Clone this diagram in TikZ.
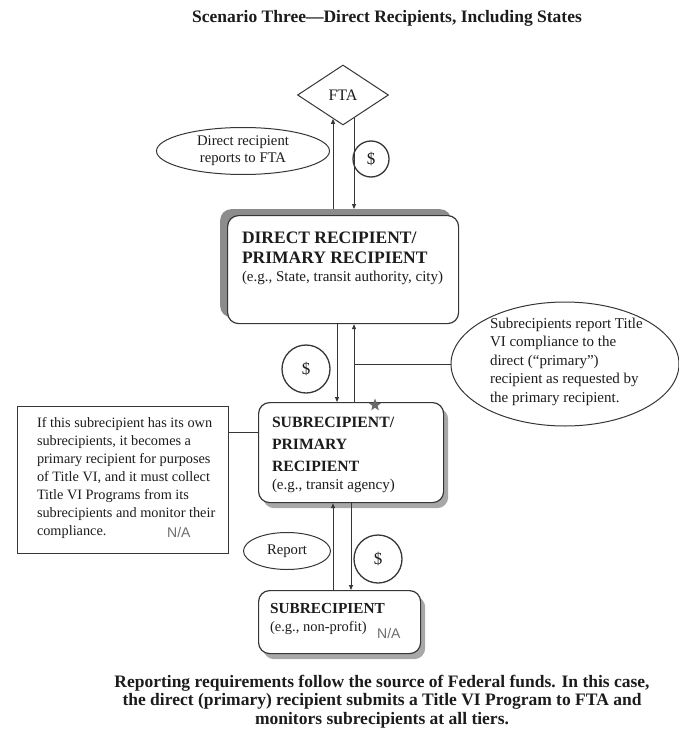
\documentclass[tikz,border=0pt]{standalone}
\usepackage{fontspec}
\setmainfont{Liberation Serif}
\newfontfamily\sansna{Liberation Sans}
\usetikzlibrary{shapes.geometric,arrows.meta,calc}
\definecolor{ink}{HTML}{1C1C1C}
\definecolor{edge}{HTML}{363636}
\definecolor{shadeA}{HTML}{8C8C8C}
\definecolor{shadeB}{HTML}{A8A8A8}
\definecolor{natext}{HTML}{6E6E6E}
\definecolor{stargray}{HTML}{6A6A6A}
\begin{document}
\begin{tikzpicture}[x=1pt,y=-1pt,
  txt/.style={inner sep=0pt, outer sep=0pt, anchor=base west, text=ink},
  ctxt/.style={inner sep=0pt, outer sep=0pt, anchor=base, text=ink},
  body/.style={font=\fontsize{14.3}{18}\selectfont},
  head/.style={font=\bfseries\fontsize{17.5}{20}\selectfont},
  rbox/.style={draw=edge, line width=1.2pt, rounded corners=11pt, fill=white, inner sep=0pt, anchor=north west},
  shad/.style={fill=#1, rounded corners=11pt, inner sep=0pt, anchor=north west},
  ell/.style={ellipse, draw=edge, line width=1pt, inner sep=0pt, fill=white, text=ink, align=center},
  money/.style={circle, draw=edge, line width=1.3pt, inner sep=0pt, minimum size=#1, font=\fontsize{17}{17}\selectfont, text=ink},
  arr/.style={draw=edge, line width=0.9pt, -{Triangle[length=5pt,width=4pt]}},
  conn/.style={draw=edge, line width=0.9pt},
  na/.style={inner sep=0pt, anchor=base west, text=natext, font=\sansna\fontsize{14}{14}\selectfont}
]
\useasboundingbox (0,0) rectangle (679,733);
\fill[white] (0,0) rectangle (679,733);

% title
\node[ctxt, font=\bfseries\fontsize{17.5}{20}\selectfont] (title) at (387,23) {Scenario Three—Direct Recipients, Including States};

% FTA
\node[diamond, draw=edge, line width=1pt, minimum width=91pt, minimum height=60pt, inner sep=0pt, font=\fontsize{16}{16}\selectfont, text=ink] (fta) at (343,95) {FTA};

% report ellipse top
\node[ell, minimum width=173pt, minimum height=47pt, font=\fontsize{14.7}{17}\selectfont] (rep1) at (243,151) {Direct recipient\\reports to FTA};
\node[money=36pt] (m1) at (371,159) {\$};

% direct recipient box
\node[shad=shadeA, minimum width=231pt, minimum height=108pt] (drs) at (220,209) {};
\node[rbox, minimum width=231pt, minimum height=108pt] (dr) at (227,215) {};
\node[txt, head] (dr1) at (242,243) {DIRECT RECIPIENT/};
\node[txt, head] (dr2) at (242,263) {PRIMARY RECIPIENT};
\node[txt, font=\fontsize{15}{18}\selectfont] (dr3) at (242,281) {(e.g., State, transit authority, city)};

% arrows FTA <-> DR
\coordinate (xa) at (333,0);
\coordinate (xb) at (354,0);
\coordinate (fa) at ($(fta.south)!0.44!(fta.south west)$);
\coordinate (fb) at ($(fta.south)!0.48!(fta.south east)$);
\draw[arr] (drs.north -| xa) -- (xa |- fa);
\draw[arr] (xb |- fb) -- (drs.north -| xb);

% subrecipient / primary recipient box
\node[shad=shadeB, minimum width=185pt, minimum height=100pt] (srs) at (263,408) {};
\node[rbox, minimum width=185pt, minimum height=100pt] (sr) at (258,402) {};
\node[txt, font=\bfseries\fontsize{15.7}{18}\selectfont] (sr1) at (272,427) {SUBRECIPIENT/};
\node[txt, font=\bfseries\fontsize{15.7}{18}\selectfont] (sr2) at (272,449) {PRIMARY};
\node[txt, font=\bfseries\fontsize{15.7}{18}\selectfont] (sr3) at (272,471) {RECIPIENT};
\node[txt, font=\fontsize{15}{18}\selectfont] (sr4) at (272,489) {(e.g., transit agency)};
\node[star, star points=5, star point ratio=2.4, fill=stargray, minimum size=13pt, inner sep=0pt] (star) at (375,405) {};

% arrows DR <-> SR
\coordinate (xc) at (337,0);
\coordinate (xd) at (354,0);
\draw[arr] (dr.south -| xc) -- (sr.north -| xc);
\draw[arr] (sr.north -| xd) -- (dr.south -| xd);
\node[money=48pt] (m2) at (306,369) {\$};

% right ellipse
\node[ell, minimum width=228pt, minimum height=124pt] (ell2) at (565,364) {};
\foreach \t [count=\i from 0] in {Subrecipients report Title, VI compliance to the, direct (“primary”), recipient as requested by, the primary recipient.}
  \node[txt, font=\fontsize{15}{18}\selectfont] (rt\i) at (490,{328+18.5*\i}) {\t};
\draw[conn] (xd |- ell2.west) -- (ell2.west);

% left box
\node[draw=edge, line width=1.2pt, minimum width=211pt, minimum height=147pt, anchor=north west, inner sep=0pt] (lbox) at (17,406) {};
\foreach \t [count=\i from 0] in {If this subrecipient has its own, {subrecipients, it becomes a}, primary recipient for purposes, {of Title VI, and it must collect}, Title VI Programs from its, subrecipients and monitor their, compliance.}
  \node[txt, body] (lt\i) at (37,{427+18*\i}) {\t};
\node[na] (na1) at (167,537) {N/A};
\coordinate (ly) at (0,432);
\draw[conn] (lbox.east |- ly) -- (sr.west |- ly);

% bottom subrecipient box
\node[shad=shadeB, minimum width=162pt, minimum height=63pt] (subs) at (263,596) {};
\node[rbox, minimum width=162pt, minimum height=63pt] (sub) at (258,590) {};
\node[txt, font=\bfseries\fontsize{15.3}{18}\selectfont] (sb1) at (270,613) {SUBRECIPIENT};
\node[txt, font=\fontsize{14.5}{18}\selectfont] (sb2) at (270,631) {(e.g., non-profit)};
\node[na] (na2) at (377,638) {N/A};

% arrows SR <-> SUB
\coordinate (xe) at (333,0);
\coordinate (xf) at (351,0);
\draw[arr] (sub.north -| xe) -- (sr.south -| xe);
\draw[arr] (sr.south -| xf) -- (sub.north -| xf);
\node[ell, minimum width=87pt, minimum height=37pt, font=\fontsize{14.7}{17}\selectfont] (rep2) at (287,551) {Report};
\node[money=48pt] (m3) at (378,559) {\$};

% bottom text
\node[ctxt, font=\bfseries\fontsize{17.5}{20}\selectfont] (bt1) at (382,687) {Reporting requirements follow the source of Federal funds. In this case,};
\node[ctxt, font=\bfseries\fontsize{17.5}{20}\selectfont] (bt2) at (382,705.5) {the direct (primary) recipient submits a Title VI Program to FTA and};
\node[ctxt, font=\bfseries\fontsize{17.5}{20}\selectfont] (bt3) at (382,724) {monitors subrecipients at all tiers.};
\end{tikzpicture}
\end{document}
